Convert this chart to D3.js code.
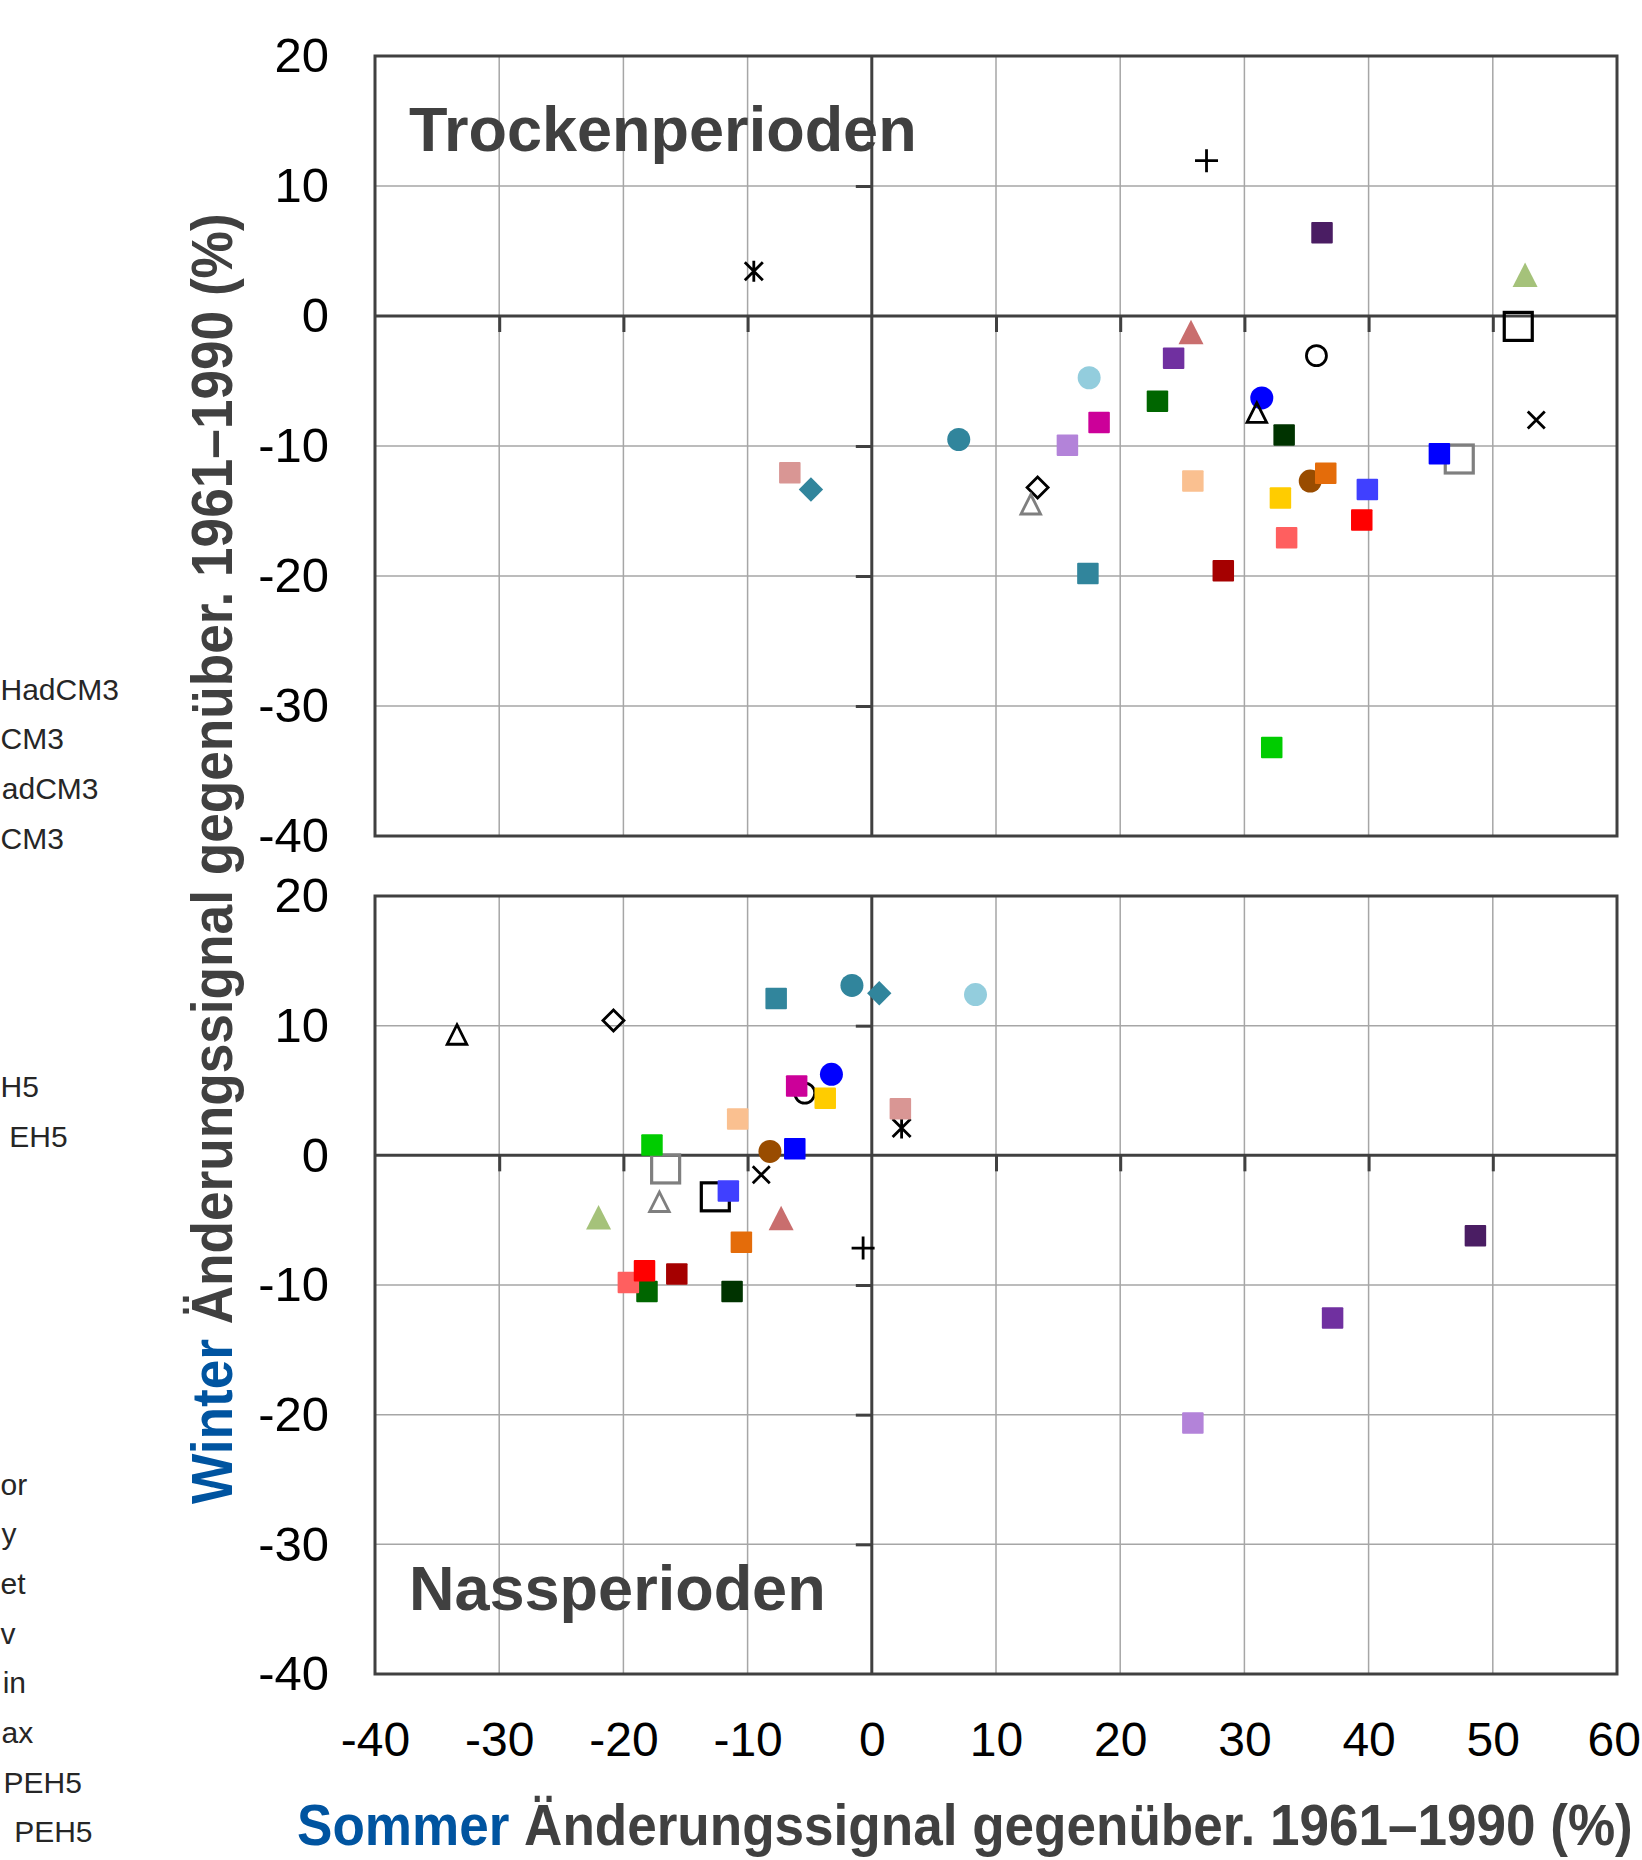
<!DOCTYPE html>
<html>
<head>
<meta charset="utf-8">
<script src="https://cdn.jsdelivr.net/npm/d3@7"></script>
<style>
  html, body { margin: 0; padding: 0; background: #ffffff; }
  svg { display: block; }
  text { font-family: "Liberation Sans", Arial, sans-serif; }
</style>
</head>
<body>
<div id="chart"></div>
<script>
// ---------------- DATA ----------------
// 33 climate-model runs (legend names cut off in the original picture)
const models = d3.range(1, 34).map(i => "Modell " + i);

// Trockenperioden (dry spells): summer and winter change signal vs. 1961–1990 (%)
const drySummer = [-9.5, -6.6, -4.9, 7.0, 13.35, 12.8, 15.75, 17.5, 18.3, 17.4, 23.0, 24.3, 25.7, 25.85, 26.95, 28.3, 31.0, 31.4, 32.2, 32.9, 33.2, 33.4, 35.3, 35.8, 36.25, 36.55, 39.45, 39.9, 45.7, 47.3, 52.05, 52.6, 53.5];
const dryWinter = [3.45, -12.05, -13.35, -9.5, -13.2, -14.5, -9.95, -4.75, -8.2, -19.8, -6.55, -3.25, -1.25, -12.7, 11.95, -19.6, -7.45, -6.3, -33.2, -14.0, -9.15, -17.05, -12.7, -3.05, 6.4, -12.1, -15.7, -13.35, -10.6, -11.0, -0.8, 3.15, -8.0];

// Nassperioden (wet spells)
const wetSummer = [2.4, 2.3, 0.6, -1.6, -20.8, -17.1, 25.85, 8.35, -6.05, -7.7, -18.1, 37.1, -7.3, -10.8, -0.7, -15.7, -33.4, -3.25, -17.7, -3.75, -11.25, -19.6, -8.2, -5.4, 48.6, -10.5, -18.3, -11.55, -6.2, -16.6, -12.6, -22.0, -8.9];
const wetWinter = [2.1, 3.6, 12.5, 13.1, 10.4, -3.6, -20.65, 12.4, 5.35, 12.1, -10.5, -12.55, -4.85, 2.8, -7.15, -9.15, 9.3, 6.25, 0.8, 4.4, -10.5, -9.8, 0.3, 4.8, -6.2, -6.7, -8.9, -2.75, 0.5, -1.05, -3.2, -4.8, -1.5];

// axis ticks
const xTickValues = [-40, -30, -20, -10, 0, 10, 20, 30, 40, 50, 60];
const yTickValues = [-40, -30, -20, -10, 0, 10, 20];

// texts
const panelTitles = ["Trockenperioden", "Nassperioden"];
const xTitleParts = ["Sommer", " Änderungssignal gegenüber. 1961–1990 (%)"];
const yTitleParts = ["Winter", " Änderungssignal gegenüber. 1961–1990 (%)"];
// visible (cut-off) fragments of the legend at the left edge, with their row number
const legendFragments = ["HadCM3", "CM3", "adCM3", "CM3", "H5", "EH5", "or", "y", "et", "v", "in", "ax", "PEH5", "PEH5"];
const legendRows = [0, 1, 2, 3, 8, 9, 16, 17, 18, 19, 20, 21, 22, 23];

// ---------------- STYLES ----------------
const modelShape = ["ast","sq","dia","circ","odia","otri","sq","circ","sq","sq","sq","sq","tri","sq","plus","sq","otri","circ","sq","sq","sq","sq","circ","ocirc","sq","sq","sq","sq","sq","osqL","osqL","tri","x"];
const modelColor = ["#000000","#d99694","#31859c","#31859c","#000000","#7f7f7f","#b383d9","#93cddd","#cc0099","#31859c","#006600","#7030a0","#c96e6e","#fac090","#000000","#a50000","#000000","#0000ff","#00cc00","#ffcc00","#003300","#ff5f5f","#994c00","#000000","#4a1d63","#e46c0a","#ff0000","#4040ff","#0000ff","#7f7f7f","#000000","#a5c27a","#000000"];
const legendRightEdge = [118.6, 54.6, 98.5, 54.6, 36.8, 67.6, 20, 16.6, 23.7, 11.9, 26, 33.2, 81.9, 92.5];

// ---------------- LAYOUT ----------------
const W = 1642, H = 1860;
const svg = d3.select("#chart").append("svg").attr("width", W).attr("height", H);

const x = d3.scaleLinear().domain([-40, 60]).range([375, 1617]);
const yTop = d3.scaleLinear().domain([-40, 20]).range([836, 56]);
const yBot = d3.scaleLinear().domain([-40, 20]).range([1674, 896]);

const BORDER = "#404040", GRID = "#a6a6a6", TITLE = "#404040", BLUE = "#0054a0";

function drawMarker(g, shape, color, cx, cy) {
  const sw = 2.8;
  switch (shape) {
    case "sq":
      g.append("rect").attr("x", cx - 10.75).attr("y", cy - 10.75).attr("width", 21.5).attr("height", 21.5)
        .attr("rx", 1).attr("fill", color); break;
    case "circ":
      g.append("ellipse").attr("cx", cx).attr("cy", cy).attr("rx", 11.5).attr("ry", 11.5).attr("fill", color); break;
    case "dia":
      g.append("path").attr("d", `M${cx},${cy-12.2}L${cx+12.2},${cy}L${cx},${cy+12.2}L${cx-12.2},${cy}Z`).attr("fill", color); break;
    case "tri":
      g.append("path").attr("d", `M${cx},${cy-12.5}L${cx+12.5},${cy+12}L${cx-12.5},${cy+12}Z`).attr("fill", color); break;
    case "otri":
      g.append("path").attr("d", `M${cx},${cy-10}L${cx+9.8},${cy+9.5}L${cx-9.8},${cy+9.5}Z`)
        .attr("fill", "none").attr("stroke", color).attr("stroke-width", sw).attr("stroke-linejoin", "miter"); break;
    case "odia":
      g.append("path").attr("d", `M${cx},${cy-10.5}L${cx+10.5},${cy}L${cx},${cy+10.5}L${cx-10.5},${cy}Z`)
        .attr("fill", "none").attr("stroke", color).attr("stroke-width", sw); break;
    case "ocirc":
      g.append("ellipse").attr("cx", cx).attr("cy", cy).attr("rx", 10).attr("ry", 10)
        .attr("fill", "none").attr("stroke", color).attr("stroke-width", sw); break;
    case "osqL":
      g.append("rect").attr("x", cx - 14).attr("y", cy - 14).attr("width", 28).attr("height", 28)
        .attr("fill", "none").attr("stroke", color).attr("stroke-width", 3.2); break;
    case "plus":
      g.append("path").attr("d", `M${cx-11.5},${cy}H${cx+11.5}M${cx},${cy-11.5}V${cy+11.5}`)
        .attr("stroke", color).attr("stroke-width", sw); break;
    case "x":
      g.append("path").attr("d", `M${cx-8.5},${cy-8.5}L${cx+8.5},${cy+8.5}M${cx+8.5},${cy-8.5}L${cx-8.5},${cy+8.5}`)
        .attr("stroke", color).attr("stroke-width", sw); break;
    case "ast":
      g.append("path").attr("d", `M${cx-9},${cy-9}L${cx+9},${cy+9}M${cx+9},${cy-9}L${cx-9},${cy+9}M${cx},${cy-10.5}V${cy+10.5}`)
        .attr("stroke", color).attr("stroke-width", sw); break;
  }
}

// draw order: black outline symbols underneath, then the filled symbols, then open triangles/diamond on top
const underFirst = ["ast", "ocirc", "osqL", "plus", "x"];
const onTop = ["otri", "odia"];
const order = d3.range(models.length).sort((a, b) => {
  const ra = underFirst.includes(modelShape[a]) ? 0 : onTop.includes(modelShape[a]) ? 2 : 1;
  const rb = underFirst.includes(modelShape[b]) ? 0 : onTop.includes(modelShape[b]) ? 2 : 1;
  return ra - rb || a - b;
});

function panel(y, xs, ys, title, titleBaseline, showXLabels) {
  const g = svg.append("g");
  const [x0, x1] = x.range();
  const [y0, y1] = [y.range()[1], y.range()[0]];

  // grid
  g.append("g").selectAll("line").data(xTickValues.filter(v => v !== -40 && v !== 60 && v !== 0)).join("line")
    .attr("x1", d => x(d)).attr("x2", d => x(d)).attr("y1", y0).attr("y2", y1)
    .attr("stroke", GRID).attr("stroke-width", 1.5);
  g.append("g").selectAll("line").data(yTickValues.filter(v => v !== -40 && v !== 20 && v !== 0)).join("line")
    .attr("x1", x0).attr("x2", x1).attr("y1", d => y(d)).attr("y2", d => y(d))
    .attr("stroke", GRID).attr("stroke-width", 1.5);

  // zero axes with small ticks
  const xt = g.append("g").attr("transform", `translate(0,${y(0)})`)
    .call(d3.axisBottom(x).tickValues(xTickValues.filter(v => v > -40 && v < 60 && v !== 0)).tickSize(16).tickFormat(""));
  xt.select(".domain").remove();
  xt.selectAll("line").attr("stroke", BORDER).attr("stroke-width", 3);
  const yt = g.append("g").attr("transform", `translate(${x(0)},0)`)
    .call(d3.axisLeft(y).tickValues(yTickValues.filter(v => v > -40 && v < 20 && v !== 0)).tickSize(16).tickFormat(""));
  yt.select(".domain").remove();
  yt.selectAll("line").attr("stroke", BORDER).attr("stroke-width", 3);

  g.append("line").attr("x1", x0).attr("x2", x1).attr("y1", y(0)).attr("y2", y(0)).attr("stroke", BORDER).attr("stroke-width", 3);
  g.append("line").attr("x1", x(0)).attr("x2", x(0)).attr("y1", y0).attr("y2", y1).attr("stroke", BORDER).attr("stroke-width", 3);

  // frame
  g.append("rect").attr("x", x0).attr("y", y0).attr("width", x1 - x0).attr("height", y1 - y0)
    .attr("fill", "none").attr("stroke", BORDER).attr("stroke-width", 3);

  // y tick labels
  const yl = g.append("g").attr("transform", `translate(329,0)`)
    .call(d3.axisLeft(y).tickValues(yTickValues).tickSize(0).tickPadding(0).tickFormat(d => String(d)));
  yl.select(".domain").remove();
  yl.selectAll("text").attr("font-size", 49).attr("fill", "#000").attr("font-family", "Liberation Sans, Arial, sans-serif");

  if (showXLabels) {
    const xl = g.append("g").attr("transform", `translate(0,1722)`)
      .call(d3.axisBottom(x).tickValues(xTickValues).tickSize(0).tickPadding(0).tickFormat(d => String(d)));
    xl.select(".domain").remove();
    xl.selectAll("text").attr("font-size", 48).attr("fill", "#000").attr("font-family", "Liberation Sans, Arial, sans-serif");
    // keep the last label inside the page
    xl.selectAll("text").each(function () {
      const bb = this.getBBox();
      const tr = this.parentNode.getAttribute("transform");
      const tx = +tr.match(/translate\(([-\d.]+)/)[1];
      const over = tx + bb.x + bb.width - (W - 1);
      if (over > 0) d3.select(this).attr("dx", -over);
    });
  }

  // title
  g.append("text").attr("x", 409).attr("y", titleBaseline).attr("font-size", 63).attr("font-weight", "bold")
    .attr("fill", TITLE).text(title);

  // markers
  const mg = g.append("g");
  order.forEach(i => drawMarker(mg, modelShape[i], modelColor[i], x(xs[i]), y(ys[i])));
}

panel(yTop, drySummer, dryWinter, panelTitles[0], 151, false);
panel(yBot, wetSummer, wetWinter, panelTitles[1], 1610, true);

// axis titles (condensed bold, scaled to the reference width)
function axisTitle(parts, targetLen, transformBase) {
  const t = svg.append("text").attr("font-size", 58).attr("font-weight", "bold");
  t.append("tspan").attr("fill", BLUE).text(parts[0]);
  t.append("tspan").attr("fill", TITLE).text(parts[1]);
  const w = t.node().getComputedTextLength();
  t.attr("transform", `${transformBase} scale(${targetLen / w},1)`);
}
axisTitle(xTitleParts, 1336, "translate(297,1845)");
axisTitle(yTitleParts, 1291, "translate(232,1504) rotate(-90)");

// cut-off legend fragments at the left edge (kept fully inside the page)
const rowY = k => 689.3 + 49.67 * k;
svg.append("g").selectAll("text").data(legendFragments).join("text")
  .attr("y", (d, i) => rowY(legendRows[i]) + 10.5)
  .attr("text-anchor", "start").attr("font-size", 30).attr("fill", "#262626")
  .text(d => d)
  .each(function (d, i) {
    const w = this.getComputedTextLength();
    d3.select(this).attr("x", Math.max(legendRightEdge[i] - w, 0.5));
  });
</script>
</body>
</html>
